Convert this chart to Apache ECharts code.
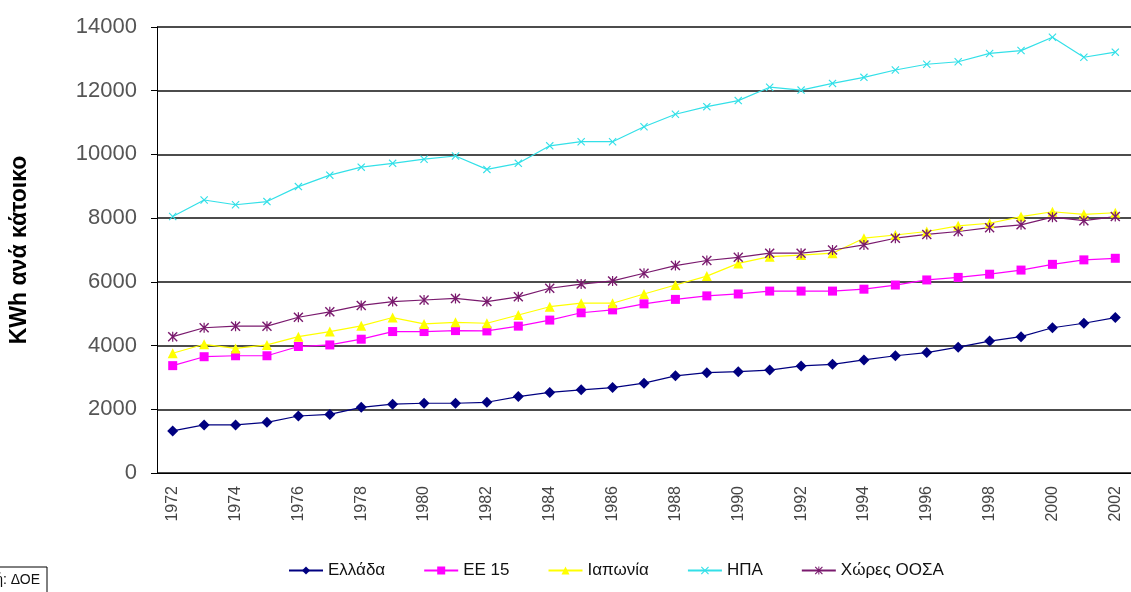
<!DOCTYPE html>
<html>
<head>
<meta charset="utf-8">
<script src="https://cdn.jsdelivr.net/npm/echarts@6/dist/echarts.min.js"></script>
<style>
  html, body { margin: 0; padding: 0; background: #fff; }
  #chart { width: 1131px; height: 592px; }
</style>
</head>
<body>
<div id="chart"></div>
<script>
// έτη
var years = ['1972', '1973', '1974', '1975', '1976', '1977', '1978', '1979', '1980', '1981',
  '1982', '1983', '1984', '1985', '1986', '1987', '1988', '1989', '1990', '1991',
  '1992', '1993', '1994', '1995', '1996', '1997', '1998', '1999', '2000', '2001', '2002']

// KWh ανά κάτοικο
var greece = [1320, 1510, 1510, 1590, 1790, 1840, 2060, 2160, 2190, 2190,
  2220, 2400, 2530, 2610, 2680, 2820, 3050, 3150, 3180, 3230,
  3360, 3410, 3550, 3680, 3780, 3950, 4140, 4280, 4560, 4700, 4880]
var eu15 = [3370, 3650, 3680, 3680, 3970, 4020, 4200, 4440, 4440, 4470,
  4460, 4610, 4800, 5030, 5120, 5310, 5450, 5560, 5620, 5710,
  5710, 5710, 5770, 5900, 6060, 6140, 6240, 6370, 6550, 6690, 6740]
var japan = [3760, 4040, 3910, 4020, 4280, 4440, 4620, 4880, 4680, 4730,
  4700, 4960, 5220, 5330, 5330, 5620, 5900, 6180, 6580, 6790,
  6840, 6900, 7370, 7470, 7580, 7760, 7840, 8050, 8200, 8120, 8170]
var usa = [8050, 8570, 8420, 8520, 8990, 9350, 9600, 9720, 9850, 9950,
  9530, 9720, 10270, 10400, 10400, 10870, 11260, 11500, 11690, 12110,
  12020, 12230, 12420, 12650, 12830, 12910, 13170, 13260, 13680, 13050, 13210]
var oecd = [4280, 4560, 4610, 4610, 4890, 5060, 5260, 5380, 5430, 5480,
  5380, 5530, 5800, 5930, 6030, 6270, 6510, 6670, 6770, 6900,
  6900, 7000, 7160, 7370, 7490, 7580, 7700, 7790, 8030, 7920, 8050]

var yTicks = [0, 2000, 4000, 6000, 8000, 10000, 12000, 14000]

// σύμβολα x και * (σε μορφή πολυγώνου)
var crossPath = 'path://M0,1L1,0L5,4L9,0L10,1L6,5L10,9L9,10L5,6L1,10L0,9L4,5Z'
var starPath = 'path://M0,1L1,0L4.4,3.4L4.4,0L5.6,0L5.6,3.4L9,0L10,1L6,5L10,9L9,10L5.6,6.6L5.6,10L4.4,10L4.4,6.6L1,10L0,9L4,5Z'

function makeSeries (name, data, color, symbol, size) {
  return {
    name: name,
    type: 'line',
    data: data,
    symbol: symbol,
    symbolSize: size,
    showAllSymbol: true,
    lineStyle: { color: color, width: 1.2 },
    itemStyle: { color: color },
    emphasis: { disabled: true }
  }
}

var chart = echarts.init(document.getElementById('chart'))
var option = {
  animation: false,
  backgroundColor: '#fff',
  grid: { left: 157, top: 27, width: 985, height: 446 },
  legend: {
    bottom: 8,
    left: 283,
    itemWidth: 34,
    itemHeight: 10,
    itemGap: 38,
    textStyle: { fontFamily: 'Liberation Sans Narrow, Liberation Sans, Arial', fontSize: 17, color: '#111' },
    data: ['Ελλάδα', 'ΕΕ 15', 'Ιαπωνία', 'ΗΠΑ', 'Χώρες ΟΟΣΑ']
  },
  xAxis: {
    type: 'category',
    data: years,
    boundaryGap: true,
    axisLine: { lineStyle: { color: '#000', width: 1 } },
    axisTick: { interval: 0, length: 6, lineStyle: { color: '#000' } },
    axisLabel: {
      interval: 1,
      rotate: 90,
      margin: 13,
      fontFamily: 'Liberation Sans, Arial',
      fontSize: 16,
      color: '#444'
    },
    splitLine: { show: false }
  },
  yAxis: {
    type: 'value',
    min: yTicks[0],
    max: yTicks[yTicks.length - 1],
    interval: 2000,
    name: 'KWh ανά κάτοικο',
    nameLocation: 'middle',
    nameGap: 126,
    nameTextStyle: { fontFamily: 'Liberation Sans, Arial', fontSize: 23, fontWeight: 'bold', color: '#000' },
    axisLine: { show: true, lineStyle: { color: '#000', width: 1 } },
    axisTick: { show: true, length: 6, lineStyle: { color: '#000' } },
    axisLabel: {
      margin: 20,
      fontFamily: 'Liberation Sans, Arial',
      fontSize: 22,
      color: '#555',
      formatter: function (value) {
        return String(value)
      }
    },
    splitLine: { lineStyle: { color: '#111', width: 1.5 } }
  },
  graphic: [
    {
      type: 'rect',
      shape: { x: -60, y: 567, width: 107, height: 40 },
      style: { fill: '#fff', stroke: '#000', lineWidth: 1 }
    },
    {
      type: 'text',
      x: 40,
      y: 580,
      style: {
        text: 'Πηγή: ΔΟΕ',
        align: 'right',
        verticalAlign: 'middle',
        fontFamily: 'Liberation Sans Narrow, Liberation Sans, Arial',
        fontSize: 14,
        fill: '#111'
      }
    }
  ],
  series: [
    makeSeries('Ελλάδα', greece, '#000080', 'diamond', 11),
    makeSeries('ΕΕ 15', eu15, '#ff00ff', 'rect', 9),
    makeSeries('Ιαπωνία', japan, '#ffff00', 'triangle', 10),
    makeSeries('ΗΠΑ', usa, '#33e0e8', crossPath, 8),
    makeSeries('Χώρες ΟΟΣΑ', oecd, '#7a1a6e', starPath, 10)
  ]
}
chart.setOption(option)
</script>
</body>
</html>
